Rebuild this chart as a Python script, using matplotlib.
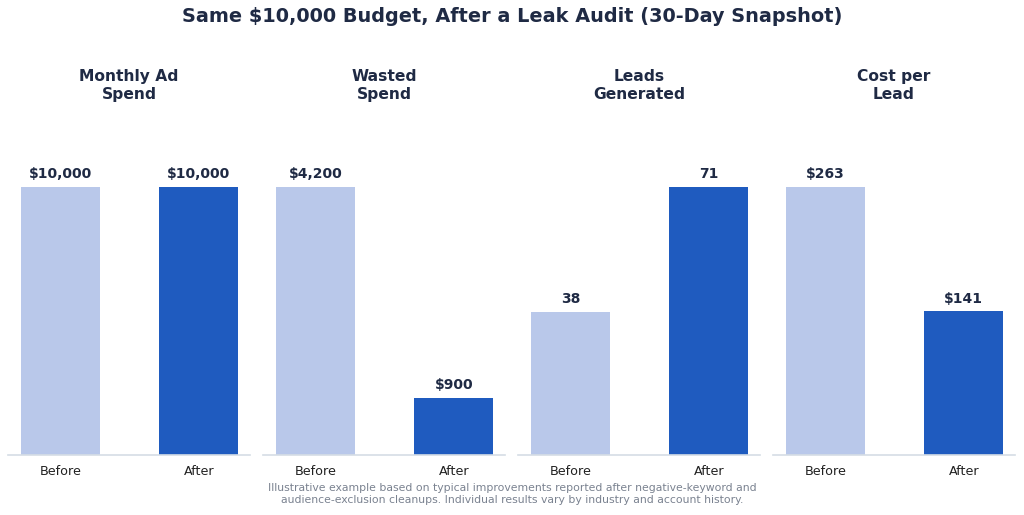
import matplotlib
matplotlib.use("Agg")
import matplotlib.pyplot as plt

panel_titles = ["Monthly Ad\nSpend", "Wasted\nSpend", "Leads\nGenerated", "Cost per\nLead"]
categories = ["Before", "After"]
before_values = [10000, 4200, 38, 263]
after_values = [10000, 900, 71, 141]
value_labels = [["$10,000", "$10,000"], ["$4,200", "$900"], ["38", "71"], ["$263", "$141"]]

title = "Same \\$10,000 Budget, After a Leak Audit (30-Day Snapshot)"
footnote = ("Illustrative example based on typical improvements reported after negative-keyword and\n"
            "audience-exclusion cleanups. Individual results vary by industry and account history.")

light = "#b9c8ea"
dark = "#1f5bbf"
navy = "#1f2a44"

W, H = 1024, 515
fig = plt.figure(figsize=(W / 100, H / 100), dpi=100)

lefts = [8, 263, 518, 773]
aw = 242
bottom_px = 455
top_px = 120
for i, l in enumerate(lefts):
    ax = fig.add_axes([l / W, (H - bottom_px) / H, aw / W, (bottom_px - top_px) / H])
    vals = [before_values[i], after_values[i]]
    bars = ax.bar([0, 1], vals, width=0.57, color=[light, dark])
    mx = max(vals)
    ax.set_ylim(0, mx * (bottom_px - top_px) / 268)
    ax.set_xlim(-0.38, 1.37)
    ax.set_xticks([0, 1])
    ax.set_xticklabels(categories, fontsize=9.2, color="#222222")
    ax.tick_params(axis="x", length=0, pad=7)
    ax.set_yticks([])
    for s in ["left", "right", "top"]:
        ax.spines[s].set_visible(False)
    ax.spines["bottom"].set_color("#d5dde5")
    ax.spines["bottom"].set_linewidth(1.2)
    for b, lab in zip(bars, value_labels[i]):
        ax.annotate(lab.replace("$", "\\$"), (b.get_x() + b.get_width() / 2, b.get_height()),
                    xytext=(0, 4), textcoords="offset points", ha="center", va="bottom",
                    fontsize=10, fontweight="bold", color=navy)
    fig.text((l + aw / 2) / W, (H - 102) / H, panel_titles[i], ha="center", va="bottom",
             fontsize=11.2, fontweight="bold", color=navy, linespacing=1.25)

fig.text(0.5, 1 - 17 / H, title, ha="center", va="center", fontsize=13.9, fontweight="bold", color=navy)
fig.text(0.5, 1 - 494 / H, footnote, ha="center", va="center", fontsize=7.8, color="#7a8290",
         linespacing=1.15)

fig.savefig("out.png", dpi=100)
